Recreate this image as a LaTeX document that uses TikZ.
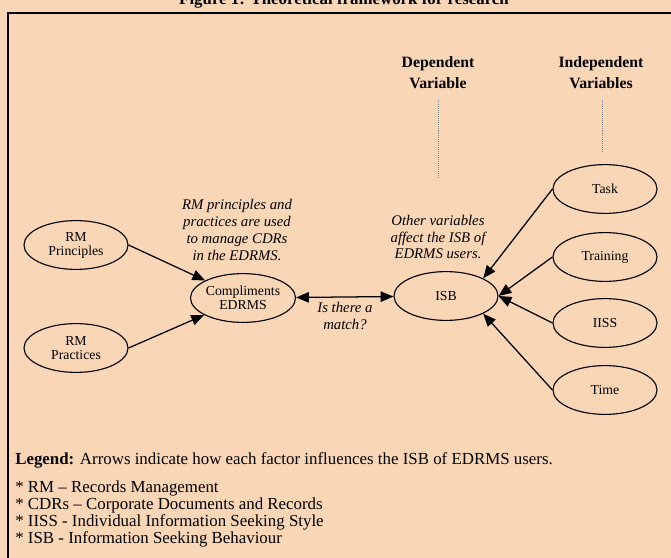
\documentclass[tikz,border=0pt]{standalone}
\usepackage{fontspec}
\setmainfont{Liberation Serif}
\usetikzlibrary{arrows.meta,shapes.geometric,positioning}
\definecolor{peach}{RGB}{249,214,181}
\tikzset{
    factor/.style={draw=black, ellipse, line width=0.8pt, minimum width=2.6cm, minimum height=1.22cm,
        inner sep=0pt, align=center, font=\fontsize{9.8}{10}\selectfont},
    influence/.style={draw=black, line width=0.9pt, -{Triangle[length=0.32cm,width=0.26cm]}},
    twoway/.style={draw=black, line width=0.9pt, {Triangle[length=0.32cm,width=0.26cm]}-{Triangle[length=0.32cm,width=0.26cm]}},
    note/.style={align=center, font=\fontsize{10.5}{12}\selectfont\itshape},
    heading/.style={align=center, font=\fontsize{11.2}{15}\selectfont\bfseries},
    guide/.style={draw=gray, densely dotted, line width=0.4pt},
    legend/.style={align=left, inner sep=0pt, font=\fontsize{12}{12}\selectfont},
}
\begin{document}
\begin{tikzpicture}[x=0.025cm, y=-0.025cm]
	\useasboundingbox[fill=peach] (0,0) rectangle (671,558);
	\draw[line width=1.4pt] (8,13) rectangle (700,600);
	\node[heading, anchor=base, font=\fontsize{12}{14}\selectfont\bfseries] (title) at (344,5) {Figure 1: Theoretical framework for research};
	\node[heading] (dep) at (438,73) {Dependent\\Variable};
	\node[heading] (indep) at (601,73) {Independent\\Variables};
	\draw[guide] (438,100) -- (438,177);
	\draw[guide] (602,100) -- (602,153);
	% factors
	\node[factor] (principles) at (76,245) {RM\\Principles};
	\node[factor] (practices) at (76,348) {RM\\Practices};
	\node[factor] (edrms) at (243,298) {Compliments\\EDRMS};
	\node[factor] (isb) at (446,296) {ISB};
	\node[factor] (task) at (605,189) {Task};
	\node[factor] (training) at (605,257) {Training};
	\node[factor] (iiss) at (605,323) {IISS};
	\node[factor] (time) at (605,390) {Time};
	% influences
	\draw[influence] (principles.east) -- (edrms);
	\draw[influence] (practices.east) -- (edrms);
	\draw[twoway] (edrms) -- (isb);
	\draw[influence] (task.west) -- (isb.north east);
	\draw[influence] (training.west) -- (isb.east);
	\draw[influence] (iiss.west) -- (isb.east);
	\draw[influence] (time.west) -- (isb.south east);
	\node[note] (usage) at (237,230) {RM principles and\\practices are used\\to manage CDRs\\in the EDRMS.};
	\node[note] (others) at (438,237) {Other variables\\affect the ISB of\\EDRMS users.};
	\node[note] (match) at (345,316) {Is there a\\match?};
	\node[legend, anchor=base west] (key) at (15,464) {\textbf{Legend:} Arrows indicate how each factor influences the ISB of EDRMS users.};
	\node[legend, anchor=north west] (abbr) at (15,481) {* RM -- Records Management\\* CDRs -- Corporate Documents and Records\\* IISS - Individual Information Seeking Style\\* ISB - Information Seeking Behaviour};
\end{tikzpicture}
\end{document}
